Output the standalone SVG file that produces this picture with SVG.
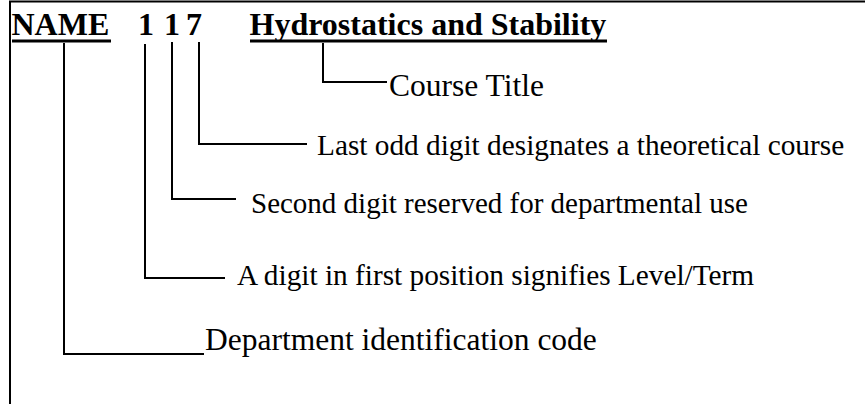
<svg xmlns="http://www.w3.org/2000/svg" width="865" height="404" viewBox="0 0 865 404">
<style>
.frame{stroke:#000;stroke-width:2;fill:none}
.con{stroke:#000;stroke-width:2;fill:none}
.ul{stroke:#000;stroke-width:3}
.h{font-family:"Liberation Serif","Times New Roman",serif;font-weight:bold;font-size:32px;fill:#000}
.lbl{font-family:"Liberation Serif","Times New Roman",serif;font-size:29.3px;fill:#000}
.lbl2{font-family:"Liberation Serif","Times New Roman",serif;font-size:31.5px;fill:#000}
</style>
<rect width="865" height="404" fill="#fff"/>
<path class="frame" d="M10,404 V1.5 H865"/>
<g id="code-name">
<text class="h" x="11.5" y="35">NAME</text>
<line class="ul" x1="12" y1="41" x2="111" y2="41"/>
</g>
<g id="code-digits">
<text class="h" y="35"><tspan x="138">1</tspan><tspan x="164">1</tspan><tspan x="186">7</tspan></text>
</g>
<g id="title">
<text class="h" x="249.5" y="35">Hydrostatics and Stability</text>
<line class="ul" x1="250" y1="41" x2="607" y2="41"/>
</g>
<g id="label-title"><text class="lbl2" x="389" y="96">Course Title</text></g>
<g id="label-last"><text class="lbl" x="317" y="155">Last odd digit designates a theoretical course</text></g>
<g id="label-second"><text class="lbl" x="251" y="213" style="font-size:29px">Second digit reserved for departmental use</text></g>
<g id="label-first"><text class="lbl" x="237" y="285">A digit in first position signifies Level/Term</text></g>
<g id="label-dept"><text class="lbl2" x="205" y="350">Department identification code</text></g>
<g id="connectors">
<path class="con" d="M323,43 V82 H387"/>
<path class="con" d="M199,42 V144 H307"/>
<path class="con" d="M172,42 V199 H236"/>
<path class="con" d="M145,44 V278 H225"/>
<path class="con" d="M64,43 V354 H204"/>
</g>
</svg>
